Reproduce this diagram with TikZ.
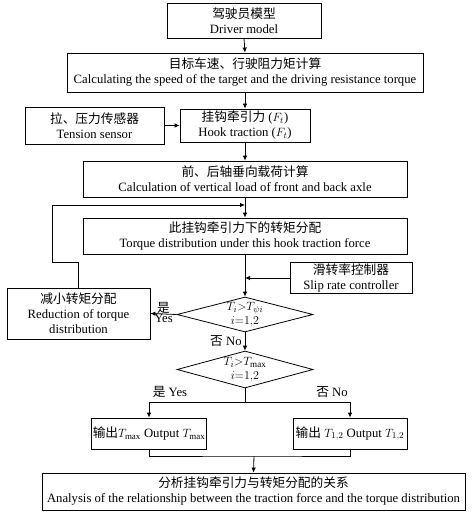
\documentclass[tikz,border=0pt]{standalone}
\usepackage{fontspec}
\setmainfont{Liberation Serif}
\newfontfamily\cjk{Noto Sans CJK SC}
\usetikzlibrary{arrows.meta,shapes.geometric,calc}
\newcommand{\zh}[1]{{\cjk #1}}
\begin{document}
\begin{tikzpicture}[x=1pt,y=-1pt,
  every node/.style={font=\fontsize{12.7}{15}\selectfont, inner sep=1pt},
  box/.style={draw, line width=0.8pt, rectangle, align=center},
  dia/.style={draw, line width=0.8pt, diamond, aspect=3.9, inner sep=0pt},
  diatext/.style={align=center, font=\fontsize{13}{14}\selectfont},
  arr/.style={line width=0.8pt, -{Latex[length=5pt,width=4.5pt]}},
  ln/.style={line width=0.8pt}]
\useasboundingbox (0,0) rectangle (473,516);
\fill[white] (0,0) rectangle (473,516);

\node[box, minimum width=154pt, minimum height=35pt] (driver) at (244,20.5)
  {\zh{驾驶员模型}\\Driver model};
\node[box, minimum width=356pt, minimum height=39pt] (target) at (245,72.5)
  {\zh{目标车速、行驶阻力矩计算}\\Calculating the speed of the target and the driving resistance torque};
\node[box, minimum width=139pt, minimum height=37pt] (sensor) at (94.5,125.5)
  {\zh{拉、压力传感器}\\Tension sensor};
\node[box, minimum width=130pt, minimum height=33pt] (hook) at (245,125.5)
  {\zh{挂钩牵引力} ($F_t$)\\Hook traction ($F_t$)};
\node[box, minimum width=324pt, minimum height=36pt] (load) at (245,179)
  {\zh{前、后轴垂向载荷计算}\\Calculation of vertical load of front and back axle};
\node[box, minimum width=324pt, minimum height=36pt] (dist) at (245,236)
  {\zh{此挂钩牵引力下的转矩分配}\\Torque distribution under this hook traction force};
\node[box, minimum width=122pt, minimum height=31pt] (slip) at (351,277.5)
  {\zh{滑转率控制器}\\Slip rate controller};
\node[box, minimum width=143pt, minimum height=51pt] (reduce) at (78.5,313.5)
  {\zh{减小转矩分配}\\Reduction of torque\\distribution};
\node[dia, minimum width=136pt, minimum height=35pt] (d1) at (245,314.5) {};
\node[diatext] (d1t) at (d1.center) {$T_i{>}T_{\psi i}$\\$i{=}1{,}2$};
\node[dia, minimum width=136pt, minimum height=37pt] (d2) at (245,369.5) {};
\node[diatext] (d2t) at (d2.center) {$T_i{>}T_{\max}$\\$i{=}1{,}2$};
\node[box, minimum width=114pt, minimum height=31pt] (outL) at (149,433.5)
  {\zh{输出}$T_{\max}$ Output $T_{\max}$};
\node[box, minimum width=114pt, minimum height=31pt] (outR) at (350,433.5)
  {\zh{输出} $T_{1,2}$ Output $T_{1,2}$};
\node[box, minimum width=423pt, minimum height=37pt] (final) at (253.5,491.5)
  {\zh{分析挂钩牵引力与转矩分配的关系}\\Analysis of the relationship between the traction force and the torque distribution};

\coordinate (j1) at (245,205);
\coordinate (j2) at (245,278);
\coordinate (j3) at (245,402);
\coordinate (j4) at (254,456);

\draw[arr] (driver.south) -- (target.north);
\draw[arr] (target.south) -- (hook.north);
\draw[arr] (sensor.east) -- (hook.west);
\draw[arr] (hook.south) -- (load.north);
\draw[arr] (load.south) -- (dist.north);
\draw[arr] (reduce.north) -- (reduce.north |- 0,262) -- (52,262) -- (52,205) -- (j1);
\draw[arr] (dist.south) -- (d1.north);
\draw[arr] (slip.west |- j2) -- (j2);
\draw[arr] (d1.west) -- (reduce.east) node[pos=0.5, above=-1pt] {\zh{是}} node[pos=0.5, below=-1pt] {Yes};
\draw[arr] (d1.south) -- (d2.north) node[pos=0.5, left=2pt] {\zh{否} No};
\draw[ln] (d2.south) -- (j3);
\draw[arr] (j3) -| (outL.north);
\draw[arr] (j3) -| (outR.north);
\draw[ln] (outL.south) |- (j4) -| (outR.south);
\draw[arr] (j4) -- (final.north);
\node (yesL) at (170,392) {\zh{是} Yes};
\node (noL) at (332,392) {\zh{否} No};
\end{tikzpicture}
\end{document}
